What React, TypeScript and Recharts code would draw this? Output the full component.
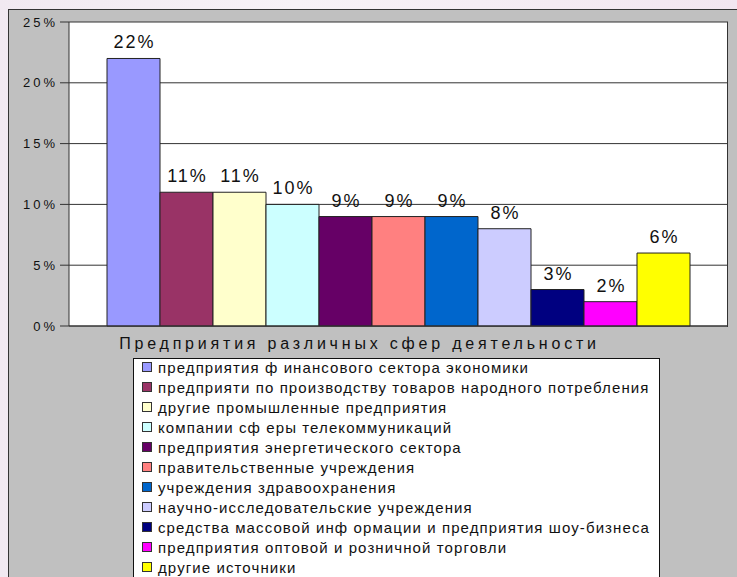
import { BarChart, Bar, XAxis, YAxis, CartesianGrid, Legend, LabelList } from "recharts";

const categoryLabel = "Предприятия различных сфер деятельности";

const sectors = [
  "предприятия ф инансового сектора экономики",
  "предприяти по производству товаров народного потребления",
  "другие промышленные предприятия",
  "компании сф еры телекоммуникаций",
  "предприятия энергетического сектора",
  "правительственные учреждения",
  "учреждения здравоохранения",
  "научно-исследовательские учреждения",
  "средства массовой инф ормации и предприятия шоу-бизнеса",
  "предприятия оптовой и розничной торговли",
  "другие источники",
];

const shares = [22, 11, 11, 10, 9, 9, 9, 8, 3, 2, 6];

const colors = [
  "#9999ff", "#993366", "#ffffcc", "#ccffff", "#660066", "#ff8080",
  "#0066cc", "#ccccff", "#000080", "#ff00ff", "#ffff00",
];

const yTicks = [0, 5, 10, 15, 20, 25];

const row: Record<string, any> = { name: categoryLabel };
sectors.forEach((_, i) => { row["s" + i] = shares[i]; });
const data = [row];

const FONT = "'Liberation Sans', Arial, sans-serif";

const ValueLabel = (props: any) => {
  const { x, y, width, value } = props;
  return (
    <text x={x + width / 2 + 1} y={y - 10} textAnchor="middle" fontSize={18} letterSpacing={2}
      fontFamily={FONT} fill="#111">{value}%</text>
  );
};

const CategoryTick = (props: any) => {
  const { x, y, payload } = props;
  return (
    <text x={x - 39} y={y + 15} textAnchor="middle" fontSize={16} letterSpacing={3.8}
      fontFamily={FONT} fill="#111">{payload.value}</text>
  );
};

const LegendBox = () => (
  <div style={{ fontFamily: FONT, fontSize: 15, color: "#111", letterSpacing: 1.1, marginTop: -2 }}>
    {sectors.map((s, i) => (
      <div key={s} style={{ display: "flex", alignItems: "center", height: 20, whiteSpace: "nowrap" }}>
        <span style={{ width: 8, height: 8, background: colors[i], border: "1px solid #333", marginRight: 6, flexShrink: 0 }} />
        <span>{s}</span>
      </div>
    ))}
  </div>
);

export default function App() {
  return (
    <div style={{ position: "fixed", left: 0, top: 0, width: 737, height: 577, overflow: "hidden",
      background: "linear-gradient(90deg, #f1e9f1, #f7f2f7 40%, #f2e6f0)" }}>
      <div style={{ position: "absolute", left: 8, top: 9, right: 0, bottom: 0, background: "#c0c0c0",
        borderTop: "1px solid #333", borderLeft: "1px solid #333" }} />
      <div style={{ position: "absolute", left: 0, top: 0 }}>
        <BarChart width={737} height={577} data={data} barCategoryGap={38} barGap={0}
          margin={{ top: 22, right: 9, left: 0, bottom: 221 }}>
          <CartesianGrid vertical={false} stroke="#333" fill="#fff" fillOpacity={1} />
          <XAxis dataKey="name" height={30} tickLine={false} axisLine={{ stroke: "#333" }} tick={<CategoryTick />} />
          <YAxis width={69} domain={[0, 25]} ticks={yTicks} tickSize={9} axisLine={{ stroke: "#333" }}
            tickLine={{ stroke: "#333" }} tickFormatter={(v: number) => v + "%"}
            tick={{ fill: "#111", fontSize: 13, fontFamily: FONT, letterSpacing: 3 }} />
          <Legend layout="vertical" align="center" verticalAlign="middle" content={<LegendBox />}
            wrapperStyle={{ left: 133, top: 358, width: 527, height: 230, boxSizing: "border-box",
              border: "1px solid #111", background: "#fff", paddingLeft: 8 }} />
          {sectors.map((s, i) => (
            <Bar key={s} dataKey={"s" + i} name={s} fill={colors[i]} stroke="#222" strokeWidth={1}
              isAnimationActive={false}>
              <LabelList dataKey={"s" + i} content={<ValueLabel />} />
            </Bar>
          ))}
        </BarChart>
      </div>
      {/* right edge of the plot frame */}
      <div style={{ position: "absolute", left: 727, top: 22, width: 1, height: 305, background: "#333" }} />
    </div>
  );
}
